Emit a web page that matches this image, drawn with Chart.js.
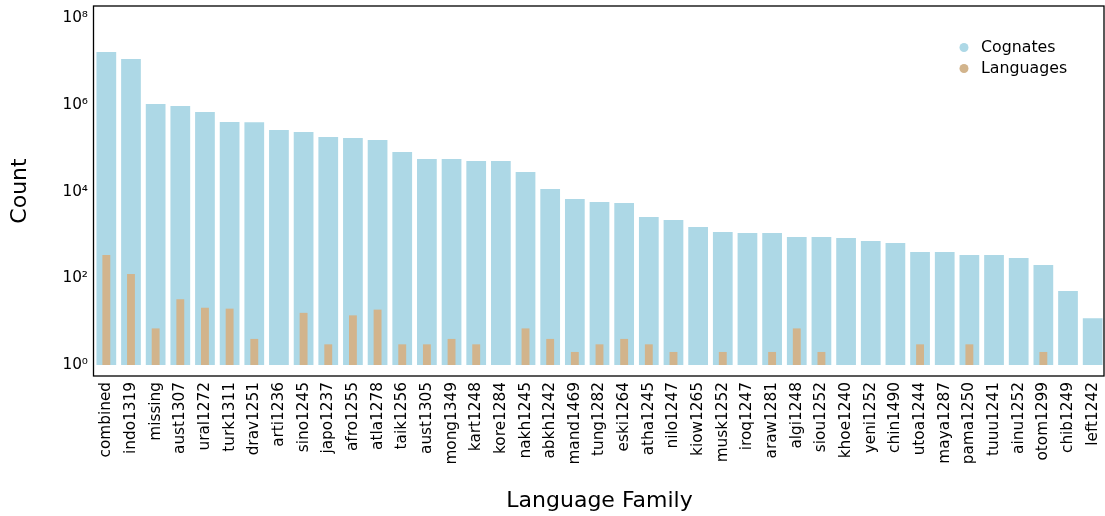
<!DOCTYPE html>
<html>
<head>
<meta charset="utf-8">
<title>Cognates and languages per language family</title>
<script src="https://cdn.jsdelivr.net/npm/chart.js@4/dist/chart.umd.min.js"></script>
<style>
  html, body { margin: 0; padding: 0; background: #ffffff; }
  #wrap { width: 1105px; height: 516px; }
</style>
</head>
<body>
<div id="wrap"><canvas id="chart" width="1105" height="516"></canvas></div>
<script>
// Language families, sorted by number of cognates
const categories = [
  'combined', 'indo1319', 'missing', 'aust1307', 'ural1272', 'turk1311', 'drav1251',
  'arti1236', 'sino1245', 'japo1237', 'afro1255', 'atla1278', 'taik1256', 'aust1305',
  'mong1349', 'kart1248', 'kore1284', 'nakh1245', 'abkh1242', 'mand1469', 'tung1282',
  'eski1264', 'atha1245', 'nilo1247', 'kiow1265', 'musk1252', 'iroq1247', 'araw1281',
  'algi1248', 'siou1252', 'khoe1240', 'yeni1252', 'chin1490', 'utoa1244', 'maya1287',
  'pama1250', 'tuuu1241', 'ainu1252', 'otom1299', 'chib1249', 'left1242'
];

// Number of cognates in each family
const cognates = [
  16900000, 11600000, 1060000, 955000, 690000, 407000, 400000,
  267000, 240000, 184000, 174000, 157000, 83000, 57000,
  57000, 51300, 51000, 28600, 11600, 6800, 5800,
  5500, 2600, 2230, 1540, 1180, 1120, 1120,
  900, 900, 855, 730, 656, 406, 406,
  347, 347, 296, 204, 51, 12
];

// Number of languages in each family
const languages = [
  347, 126, 7, 33, 21, 20, 4,
  1, 16, 3, 14, 19, 3, 3,
  4, 3, 1, 7, 4, 2, 3,
  4, 3, 2, 1, 2, 1, 2,
  7, 2, 1, 1, 1, 3, 1,
  3, 1, 1, 2, 1, 1
];

// Value-axis tick positions (powers of ten)
const yTickValues = [1, 1e2, 1e4, 1e6, 1e8];

const SUPERSCRIPT = { '0': '⁰', '1': '¹', '2': '²', '3': '³', '4': '⁴',
                      '5': '⁵', '6': '⁶', '7': '⁷', '8': '⁸', '9': '⁹', '-': '⁻' };
function powerLabel(v) {
  const exp = String(Math.round(Math.log10(v)));
  return '10' + exp.split('').map(c => SUPERSCRIPT[c]).join('');
}

const FONT = "'DejaVu Sans', sans-serif";
const COGNATE_COLOR = '#ADD8E6';
const LANGUAGE_COLOR = '#D2B48C';

// Frame around the plotting area (all four sides)
const frame = {
  id: 'frame',
  afterDraw(chart) {
    const { ctx, chartArea: a } = chart;
    ctx.save();
    ctx.strokeStyle = '#000000';
    ctx.lineWidth = 1.3;
    ctx.strokeRect(a.left - 0.5, a.top, Math.min(a.right, chart.width - 1) - a.left + 0.5, a.bottom - a.top);
    ctx.restore();
  }
};

// Legend drawn inside the plotting area, upper right, with round markers
const insideLegend = {
  id: 'insideLegend',
  afterDraw(chart) {
    const { ctx } = chart;
    ctx.save();
    ctx.font = '15.8px ' + FONT;
    ctx.textBaseline = 'middle';
    ctx.textAlign = 'left';
    chart.data.datasets.forEach((ds, i) => {
      const y = 47.5 + i * 21;
      ctx.fillStyle = ds.backgroundColor;
      ctx.beginPath();
      ctx.arc(964, y, 4.5, 0, Math.PI * 2);
      ctx.fill();
      ctx.fillStyle = '#000000';
      ctx.fillText(ds.label, 981, y);
    });
    ctx.restore();
  }
};

new Chart(document.getElementById('chart'), {
  type: 'bar',
  data: {
    labels: categories,
    datasets: [
      {
        label: 'Cognates',
        data: cognates,
        backgroundColor: COGNATE_COLOR,
        base: 1,
        grouped: false,
        categoryPercentage: 1.0,
        barPercentage: 0.8,
        order: 2
      },
      {
        label: 'Languages',
        data: languages,
        backgroundColor: LANGUAGE_COLOR,
        base: 1,
        grouped: false,
        categoryPercentage: 1.0,
        barPercentage: 0.32,
        order: 1
      }
    ]
  },
  options: {
    responsive: false,
    animation: false,
    devicePixelRatio: 1,
    layout: { padding: { top: 6, right: 0, bottom: 0, left: 0 } },
    plugins: {
      legend: { display: false },
      tooltip: { enabled: false }
    },
    scales: {
      x: {
        type: 'category',
        offset: true,
        grid: { display: false, drawTicks: false },
        border: { display: false },
        ticks: {
          autoSkip: false,
          minRotation: 90,
          maxRotation: 90,
          padding: 6,
          color: '#000000',
          font: { family: FONT, size: 15.3 }
        },
        title: {
          display: true,
          text: 'Language Family',
          color: '#000000',
          font: { family: FONT, size: 22 },
          padding: { top: 0, bottom: 2 }
        },
        afterFit(scale) {
          scale.height = 140;
          scale.paddingLeft = 0;
          scale.paddingRight = 0;
        }
      },
      y: {
        type: 'logarithmic',
        min: Math.pow(10, -0.254),
        max: Math.pow(10, 8.289),
        grid: { display: false, drawTicks: false },
        border: { display: false },
        afterBuildTicks(scale) {
          scale.ticks = yTickValues.map(v => ({ value: v }));
        },
        ticks: {
          padding: 6,
          color: '#000000',
          font: { family: FONT, size: 15.3 },
          callback: (v) => powerLabel(v)
        },
        title: {
          display: true,
          text: 'Count',
          color: '#000000',
          font: { family: FONT, size: 22 },
          padding: { top: 7, bottom: 0 }
        },
        afterFit(scale) {
          scale.width = 94;
          scale.paddingTop = 0;
          scale.paddingBottom = 0;
        }
      }
    }
  },
  plugins: [frame, insideLegend]
});
</script>
</body>
</html>
